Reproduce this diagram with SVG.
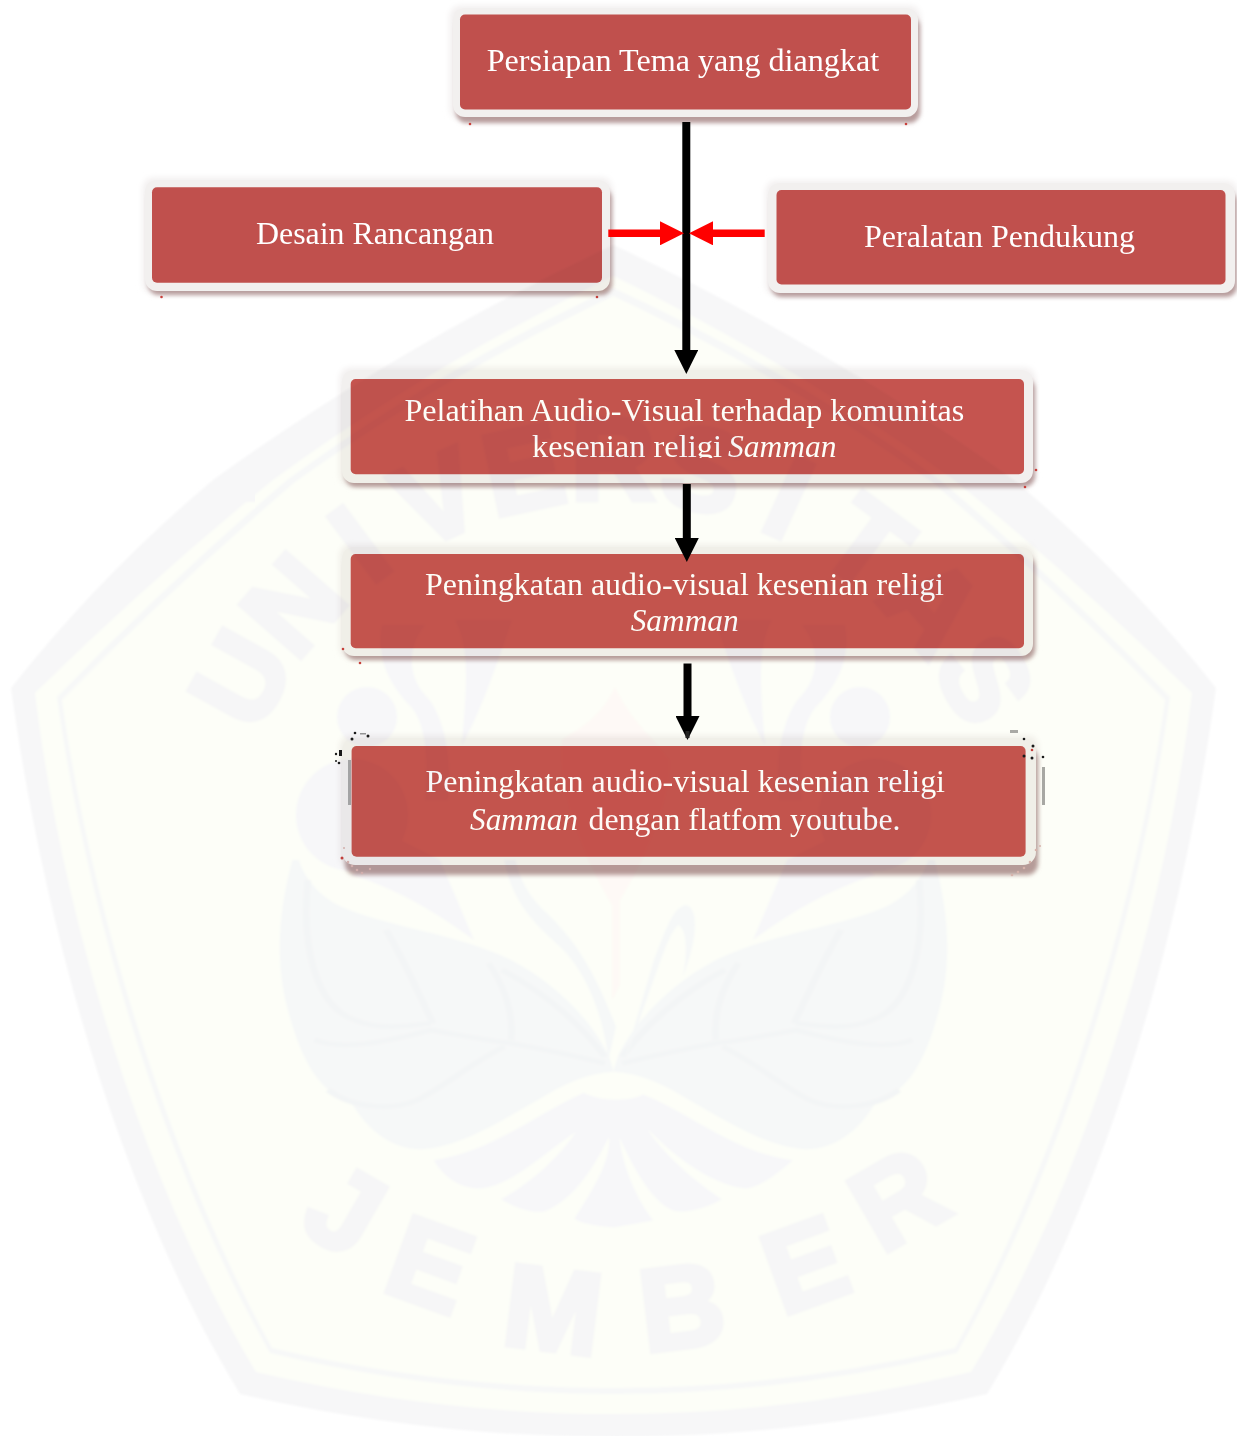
<svg xmlns="http://www.w3.org/2000/svg" xmlns:xlink="http://www.w3.org/1999/xlink" width="1237" height="1436" viewBox="0 0 1237 1436">
<style>
.frame{fill:#f2f0ef}
.shadow{fill:#b79c9c;filter:url(#soft)}
.halo{fill:#f1eeee;filter:url(#soft2)}
.box{fill:#c0504d}
.boxw{fill:#c5544f}
.lbl{font-family:"Liberation Serif","Times New Roman",serif;fill:#fff;font-size:32px}
.it{font-style:italic}
.wm{font-family:"Liberation Sans",Arial,sans-serif;font-weight:700;fill:#f6f6f7;stroke:#f6f6f7;stroke-width:6;text-anchor:middle}
.uni{font-size:116px}
.jem{font-size:116px}
.blk{stroke:#000;stroke-width:8;fill:none}
.red{stroke:#f00;stroke-width:7.5;fill:none}
.leaf{fill:#f6f8f8}
.vein{fill:none;stroke:#f3f5f6;stroke-width:14}
.grey{fill:#f7f7f9}
.dot{fill:#1a1a1a}
.rd{fill:#c8403c}
.pk{fill:#d8b4b0}
</style>
<defs>
<filter id="soft" x="-5%" y="-20%" width="110%" height="140%"><feGaussianBlur stdDeviation="2.2"/></filter>
<filter id="soft2" x="-5%" y="-20%" width="110%" height="140%"><feGaussianBlur stdDeviation="3"/></filter>
<filter id="wmblur" x="-2%" y="-2%" width="104%" height="104%"><feGaussianBlur stdDeviation="0.8"/></filter>
<marker id="headK" markerUnits="userSpaceOnUse" markerWidth="24" markerHeight="24" viewBox="0 0 24 24" refX="0" refY="12" orient="auto"><path d="M0,0L24,12L0,24Z" fill="#000"/></marker>
<marker id="headR" markerUnits="userSpaceOnUse" markerWidth="24" markerHeight="24" viewBox="0 0 24 24" refX="0" refY="12" orient="auto"><path d="M0,0L24,12L0,24Z" fill="#f00"/></marker>
<clipPath id="cut"><rect x="500" y="420" width="360" height="38"/></clipPath>
<g id="half">
<circle class="grey" cx="352" cy="815" r="56"/>
<circle class="grey" cx="367" cy="717" r="30"/>
<path class="grey" d="M382,625C375,665 395,690 412,708C428,728 428,770 425,800L448,800C452,760 445,715 425,695C410,678 405,650 425,625Z"/>
<path class="grey" d="M455,620C472,650 465,700 462,745C482,710 500,655 512,620Z"/>
<path class="grey" d="M352,875C400,890 440,915 474,940L440,860L400,840Z"/>
<g transform="translate(270,860) scale(.4464,.3333)">
<path class="leaf" d="M50,0C20,150 10,300 40,450C70,600 110,700 180,720C210,800 270,870 340,868C430,860 520,780 600,720C660,670 710,640 770,635L760,590C720,480 640,370 540,300C420,220 260,200 160,140C110,110 75,50 65,0Z"/>
<path class="vein" d="M85,60C70,250 100,440 190,480C240,510 300,500 360,490"/>
<path class="vein" d="M260,210C300,300 340,420 365,490"/>
<path class="vein" d="M490,310C530,390 545,470 540,540"/>
<path class="vein" d="M100,540C160,570 250,550 360,510C420,525 480,540 540,550C620,570 690,590 750,610"/>
<path class="vein" d="M525,560C450,610 390,680 330,720C280,750 190,750 130,690"/>
<path class="vein" d="M520,330C620,400 700,500 750,590"/>
</g>
</g>
</defs>
<rect id="page" width="1237" height="1436" fill="#fff"/>

<g id="node-persiapan">
<rect class="halo" x="450" y="6" width="470" height="113" rx="10"/>
<rect class="shadow" x="456" y="16" width="464" height="107" rx="11"/>
<rect class="frame" x="453" y="8" width="465" height="109" rx="12"/>
<rect class="box" x="460" y="14.5" width="451" height="95" rx="5"/>
<circle class="rd" cx="470" cy="124" r="1.3"/><circle class="rd" cx="906" cy="124" r="1.3"/>
<text class="lbl" x="486.7" y="71" textLength="392.5" lengthAdjust="spacingAndGlyphs">Persiapan Tema yang diangkat</text>
</g>
<g id="node-desain">
<rect class="halo" x="143" y="178" width="469" height="115" rx="10"/>
<rect class="shadow" x="148" y="188" width="464" height="107" rx="11"/>
<rect class="frame" x="145" y="180" width="465" height="111" rx="12"/>
<rect class="box" x="152" y="187.3" width="450" height="95.4" rx="5"/>
<circle class="rd" cx="161.5" cy="297" r="1.3"/><circle class="rd" cx="597" cy="297" r="1.3"/>
<text class="lbl" x="256" y="244" textLength="238" lengthAdjust="spacingAndGlyphs">Desain Rancangan</text>
</g>
<g id="node-peralatan">
<rect class="halo" x="766" y="181" width="471" height="114" rx="10"/>
<rect class="shadow" x="771" y="191" width="466" height="106" rx="11"/>
<rect class="frame" x="768" y="183" width="467" height="110" rx="12"/>
<rect class="box" x="776.5" y="190" width="449" height="94.5" rx="5"/>
<text class="lbl" x="864" y="247" textLength="271" lengthAdjust="spacingAndGlyphs">Peralatan Pendukung</text>
</g>
<g id="node-pelatihan">
<rect class="halo" x="340" y="368" width="695" height="117" rx="10"/>
<rect class="shadow" x="345" y="378" width="690" height="109" rx="11"/>
<rect class="frame" x="342" y="370" width="691" height="113" rx="12"/>
<rect class="boxw" x="350.7" y="379" width="673.3" height="95.3" rx="5"/>
<circle class="rd" cx="1036" cy="470" r="1.3"/><circle class="rd" cx="1025" cy="487" r="1.3"/>
<text class="lbl" x="404.4" y="421" textLength="560" lengthAdjust="spacingAndGlyphs">Pelatihan Audio-Visual terhadap komunitas</text>
<g clip-path="url(#cut)">
<text class="lbl" x="532" y="457" textLength="190" lengthAdjust="spacingAndGlyphs">kesenian religi</text>
<text class="lbl it" x="728" y="457" textLength="108.4" lengthAdjust="spacingAndGlyphs">Samman</text>
</g>
</g>
<g id="node-peningkatan">
<rect class="halo" x="340" y="545" width="695" height="113" rx="10"/>
<rect class="shadow" x="345" y="555" width="690" height="105" rx="11"/>
<rect class="frame" x="342" y="547" width="691" height="109" rx="12"/>
<rect class="boxw" x="350.7" y="554" width="673.3" height="94.3" rx="5"/>
<circle class="rd" cx="343" cy="649" r="1.3"/><circle class="rd" cx="360" cy="663" r="1.3"/>
<text class="lbl" x="425" y="595" textLength="519" lengthAdjust="spacingAndGlyphs">Peningkatan audio-visual kesenian religi</text>
<text class="lbl it" x="630.7" y="631" textLength="108" lengthAdjust="spacingAndGlyphs">Samman</text>
</g>
<g id="node-youtube">
<rect class="halo" x="340" y="736" width="698" height="131" rx="10"/>
<rect class="shadow" x="345" y="748" width="693" height="127" rx="11"/>
<rect class="frame" x="342" y="738" width="694" height="127" rx="13"/>
<rect class="boxw" x="351.6" y="746" width="674" height="110.7" rx="5"/>
<rect x="348" y="760" width="3" height="45" fill="#a8a8a8"/>
<rect x="1042" y="767" width="3" height="38" fill="#a8a8a8"/>
<g>
<circle class="dot" cx="355" cy="733" r="1.3"/><circle class="dot" cx="352" cy="739" r="1.5"/><circle class="dot" cx="368" cy="736" r="1.5"/><rect x="360" y="733" width="6" height="1.5" fill="#999"/><rect x="339" y="750" width="3" height="6" class="dot"/><circle class="dot" cx="336" cy="754" r="1.2"/><circle class="dot" cx="339" cy="763" r="1.3"/><circle class="dot" cx="336" cy="761" r="1"/>
<circle class="dot" cx="1024" cy="739" r="1.3"/><circle class="dot" cx="1033" cy="746" r="1.5"/><circle class="dot" cx="1024" cy="756" r="1.5"/><circle class="dot" cx="1032" cy="758" r="1.5"/><circle class="dot" cx="1043" cy="757" r="1.3"/><circle class="rd" cx="1032" cy="750" r="1.3"/><rect x="1010" y="730" width="8" height="3" fill="#aaa"/>
<circle class="rd" cx="342" cy="858" r="1.5"/><circle class="pk" cx="348" cy="862" r="1.3"/><circle class="pk" cx="352" cy="866" r="1.3"/><circle class="pk" cx="357" cy="870" r="1.3"/><circle class="pk" cx="362" cy="873" r="1.3"/><circle class="pk" cx="370" cy="869" r="1.2"/><circle class="pk" cx="344" cy="848" r="1"/>
<circle class="pk" cx="1012" cy="875" r="1.3"/><circle class="pk" cx="1018" cy="872" r="1.3"/><circle class="pk" cx="1024" cy="868" r="1.3"/><circle class="pk" cx="1030" cy="862" r="1.3"/><circle class="pk" cx="1036" cy="850" r="1.3"/><circle class="pk" cx="1040" cy="846" r="1"/>
</g>
<text class="lbl" x="425.5" y="792" textLength="519.5" lengthAdjust="spacingAndGlyphs">Peningkatan audio-visual kesenian religi</text>
<text class="lbl it" x="470" y="830" textLength="108" lengthAdjust="spacingAndGlyphs">Samman</text>
<text class="lbl" x="588.5" y="830" textLength="312" lengthAdjust="spacingAndGlyphs">dengan flatfom youtube.</text>
</g>

<g id="connectors">
<path class="blk" d="M686.3,122V350" marker-end="url(#headK)"/>
<path class="blk" d="M686.8,484V538" marker-end="url(#headK)"/>
<path class="blk" d="M687.5,663.5V716" marker-end="url(#headK)"/>
<rect x="685.5" y="731" width="4" height="7" fill="#222"/>
<path class="red" d="M608.3,233.3H660" marker-end="url(#headR)"/>
<path class="red" d="M764.7,233.3H713" marker-end="url(#headR)"/>
</g>

<g id="watermark" style="mix-blend-mode:multiply" filter="url(#wmblur)">
<path fill="#f7f7f8" d="M613.5,245Q400,345 213,480Q100,575 11,688C40,900 110,1180 240,1394Q613.5,1480 987,1394C1117,1180 1187,900 1216,688Q1127,575 1014,480Q827,345 613.5,245Z"/>
<path fill="#fdfef8" d="M613.5,276Q430,365 273,480Q150,580 35,693C60,900 135,1170 256,1372Q613.5,1456 971,1372C1092,1170 1167,900 1192,693Q1077,580 954,480Q797,365 613.5,276Z"/>
<path fill="#f7f8f8" d="M613.5,288Q440,368 287,480Q170,580 57,697C85,900 160,1160 270,1353Q613.5,1435 957,1353C1067,1160 1142,900 1170,697Q1057,580 940,480Q787,368 613.5,288Z"/>
<path fill="#fdfef8" d="M613.5,296Q445,375 295,482Q176,584 62,700C90,900 165,1155 272,1348Q613.5,1428 955,1348C1062,1155 1137,900 1165,700Q1051,584 932,482Q782,375 613.5,296Z"/>
<path fill="#fef9f6" d="M615,687C600,720 575,730 562,740C555,790 585,860 612,905V1000L620,985V900C645,860 672,800 670,760C655,740 630,720 615,687Z"/>
<use href="#half" xlink:href="#half"/>
<use href="#half" xlink:href="#half" transform="translate(1227,0) scale(-1,1)"/>
<g transform="translate(270,860) scale(.4464,.3333)">
<path class="leaf" d="M525,0C540,120 590,190 650,260C720,350 750,500 758,600L775,500C740,380 700,260 620,160C580,110 560,60 550,0Z"/>
<path class="leaf" d="M790,620L860,300C890,200 900,150 930,135C960,140 960,230 925,350C935,280 935,210 915,195C890,220 870,330 790,620Z"/>
</g>
<g transform="translate(0,880) scale(.7889,.3546)">
<path class="grey" d="M550,790C620,770 680,660 740,600C760,625 800,625 815,605C870,650 930,770 1005,790C985,830 960,870 945,870C900,860 850,770 820,700C840,770 880,850 915,900C900,920 880,935 860,935C830,930 800,800 785,725C790,820 810,910 828,960L778,980C750,975 735,965 728,955C750,880 775,790 772,725C755,800 730,900 690,935C670,940 650,920 635,900C670,860 710,780 730,710C690,770 650,860 610,870C580,870 560,830 550,790Z"/>
</g>
<g class="wm uni">
<text transform="translate(241.3,679) rotate(-61)" y="40">U</text>
<text transform="translate(293.2,605) rotate(-48.8)" y="40">N</text>
<text transform="translate(359.6,543.8) rotate(-36.6)" y="40">I</text>
<text transform="translate(437.4,498) rotate(-24.4)" y="40">V</text>
<text transform="translate(523.2,469.6) rotate(-12.2)" y="40">E</text>
<text transform="translate(613,460)" y="40">R</text>
<text transform="translate(702.8,469.6) rotate(12.2)" y="40">S</text>
<text transform="translate(788.6,498) rotate(24.4)" y="40">I</text>
<text transform="translate(866.4,543.8) rotate(36.6)" y="40">T</text>
<text transform="translate(932.8,605) rotate(48.8)" y="40">A</text>
<text transform="translate(984.7,679) rotate(61)" y="40">S</text>
</g>
<g class="wm jem">
<text transform="translate(345,1210) rotate(30)" y="40">J</text>
<text transform="translate(430,1265) rotate(20)" y="40">E</text>
<text transform="translate(553,1310) rotate(7)" y="40">M</text>
<text transform="translate(682,1307) rotate(-7)" y="40">B</text>
<text transform="translate(805,1265) rotate(-20)" y="40">E</text>
<text transform="translate(898,1199) rotate(-30)" y="40">R</text>
</g>
</g>
</svg>
